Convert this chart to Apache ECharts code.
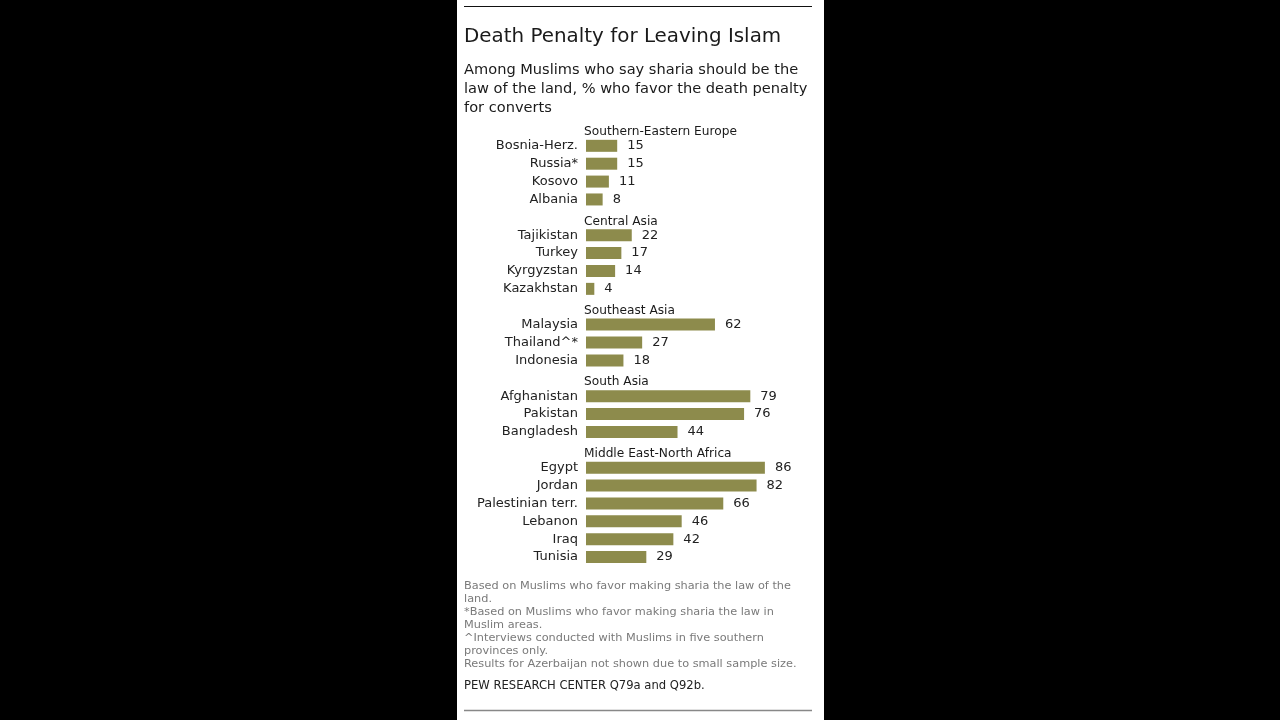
<!DOCTYPE html>
<html>
<head>
<meta charset="utf-8">
<script src="https://cdn.jsdelivr.net/npm/echarts@6/dist/echarts.min.js"></script>
<style>
html,body{margin:0;padding:0;background:#000;}
#chart{width:1280px;height:720px;}
</style>
</head>
<body>
<div id="chart"></div>
<script>
// Row slots: group headers occupy their own (empty) slot
const categories = [
  "", "Bosnia-Herz.", "Russia*", "Kosovo", "Albania",
  "", "Tajikistan", "Turkey", "Kyrgyzstan", "Kazakhstan",
  "", "Malaysia", "Thailand^*", "Indonesia",
  "", "Afghanistan", "Pakistan", "Bangladesh",
  "", "Egypt", "Jordan", "Palestinian terr.", "Lebanon", "Iraq", "Tunisia"
];
const values = [
  null, 15, 15, 11, 8,
  null, 22, 17, 14, 4,
  null, 62, 27, 18,
  null, 79, 76, 44,
  null, 86, 82, 66, 46, 42, 29
];
const groupNames = ["Southern-Eastern Europe", "Central Asia", "Southeast Asia", "South Asia", "Middle East-North Africa"];
const groupSlots = [0, 5, 10, 14, 18];

const titleText = "Death Penalty for Leaving Islam";
const subtitleText = "Among Muslims who say sharia should be the\nlaw of the land, % who favor the death penalty\nfor converts";
const noteText = "Based on Muslims who favor making sharia the law of the\nland.\n*Based on Muslims who favor making sharia the law in\nMuslim areas.\n^Interviews conducted with Muslims in five southern\nprovinces only.\nResults for Azerbaijan not shown due to small sample size.";
const sourceText = "PEW RESEARCH CENTER Q79a and Q92b.";

const FONT = "DejaVu Sans, Verdana, sans-serif";
const chart = echarts.init(document.getElementById('chart'));

chart.setOption({
  backgroundColor: '#000',
  animation: false,
  graphic: [
    { type: 'rect', shape: { x: 457, y: 0, width: 367, height: 720 }, style: { fill: '#fff' }, z: -10 },
    { type: 'line', shape: { x1: 464, y1: 6.5, x2: 812, y2: 6.5 }, style: { stroke: '#111', lineWidth: 1.2 } },
    { type: 'line', shape: { x1: 464, y1: 710.5, x2: 812, y2: 710.5 }, style: { stroke: '#888', lineWidth: 1.5 } },
    { type: 'text', left: 464, top: 27, style: { text: titleText, font: '19.9px ' + FONT, fill: '#1a1a1a' } },
    { type: 'text', left: 464, top: 61, style: { text: subtitleText, font: '14.6px ' + FONT, fill: '#1a1a1a', lineHeight: 19 } },
    { type: 'text', left: 464, top: 580, style: { text: noteText, font: '11.3px ' + FONT, fill: '#7a7a7a', lineHeight: 12.9 } },
    { type: 'text', left: 464, top: 680, style: { text: sourceText, font: '11.6px ' + FONT, fill: '#222' } }
  ],
  grid: { left: 586, top: 119, width: 208, height: 447, containLabel: false },
  xAxis: {
    type: 'value', min: 0, max: 100, show: false
  },
  yAxis: {
    type: 'category', data: categories, inverse: true,
    axisLine: { show: false }, axisTick: { show: false }, splitLine: { show: false },
    axisLabel: { margin: 8, fontFamily: FONT, fontSize: 13, color: '#222' }
  },
  series: [
    {
      type: 'bar', data: values, barWidth: 12,
      itemStyle: { color: '#8d8b4c' },
      label: { show: true, position: 'right', distance: 10, fontFamily: FONT, fontSize: 13, color: '#222',
        formatter: p => (p.value == null ? '' : String(p.value)) }
    },
    {
      type: 'scatter', symbolSize: 0, silent: true,
      itemStyle: { opacity: 1 },
      data: groupSlots.map((s, i) => ({ value: [0, s], name: groupNames[i] })),
      label: { show: true, position: 'right', distance: 0, offset: [-2, 4], fontFamily: FONT, fontSize: 12.2, color: '#1a1a1a',
        formatter: p => p.name }
    }
  ]
});
</script>
</body>
</html>
